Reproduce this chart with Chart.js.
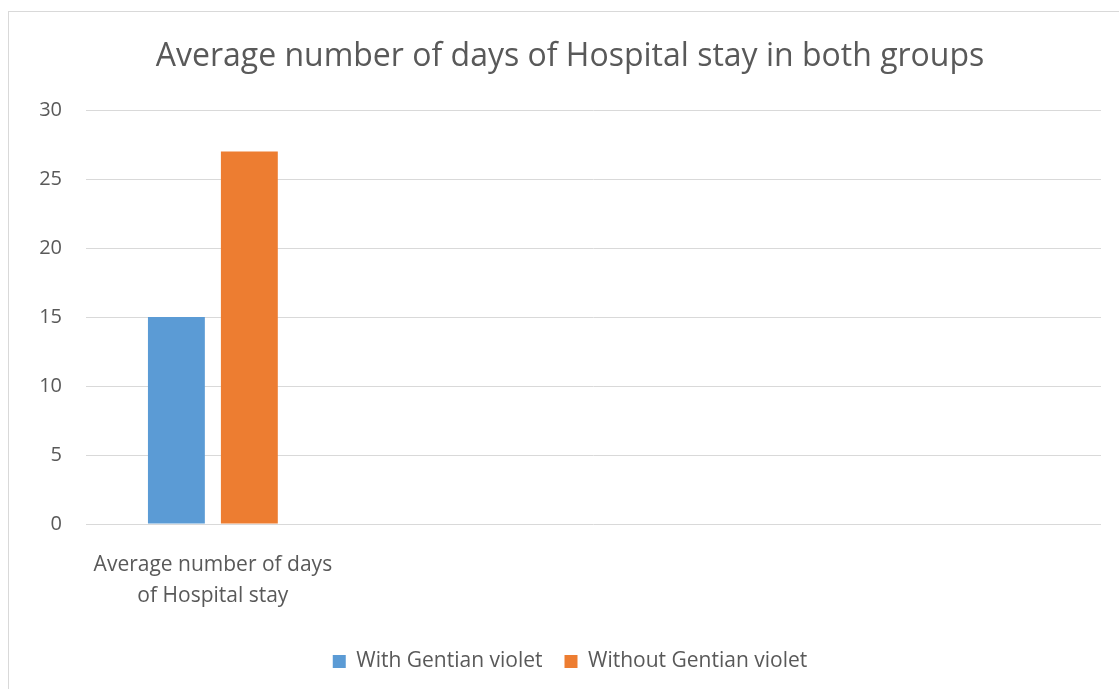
<!DOCTYPE html>
<html>
<head>
<meta charset="utf-8">
<script src="https://cdn.jsdelivr.net/npm/chart.js@4"></script>
<style>
  html, body { margin: 0; padding: 0; background: #ffffff; overflow: hidden; }
  #frame { position: absolute; left: 8px; top: 11px; width: 1130px; height: 700px; border: 1px solid #d9d9d9; box-sizing: border-box; }
  #wrap { position: absolute; left: 0; top: 0; width: 1119px; height: 689px; }
</style>
</head>
<body>
<div id="frame"></div>
<div id="wrap"><canvas id="c" width="1119" height="689"></canvas></div>
<script>
const chartTitle = "Average number of days of Hospital stay in both groups";
const categories = [["Average number of days", "of Hospital stay"], "", "", ""];
const seriesNames = ["With Gentian violet", "Without Gentian violet"];
const withGentian = [15, null, null, null];
const withoutGentian = [27, null, null, null];
const yTicks = [0, 5, 10, 15, 20, 25, 30];

const textColor = "#595959";
Chart.defaults.font.family = "'Open Sans', 'Liberation Sans', sans-serif";
Chart.defaults.color = textColor;

new Chart(document.getElementById("c"), {
  type: "bar",
  data: {
    labels: categories,
    datasets: [
      { label: seriesNames[0], data: withGentian, backgroundColor: "#5b9bd5", borderWidth: 0 },
      { label: seriesNames[1], data: withoutGentian, backgroundColor: "#ed7d31", borderWidth: 0 }
    ]
  },
  options: {
    responsive: false,
    animation: false,
    devicePixelRatio: 1,
    datasets: { bar: { categoryPercentage: 0.575, barPercentage: 0.78 } },
    layout: { padding: { left: 39, right: 18, top: 0, bottom: 7 } },
    plugins: {
      title: {
        display: true,
        text: chartTitle,
        color: textColor,
        font: { size: 32, weight: "normal", lineHeight: 1.2 },
        padding: { top: 38, bottom: 33.6 }
      },
      legend: {
        position: "bottom",
        labels: {
          color: textColor,
          font: { size: 21 },
          boxWidth: 13,
          boxHeight: 13,
          padding: 22
        }
      },
      tooltip: { enabled: false }
    },
    scales: {
      x: {
        grid: { display: false },
        border: { display: false },
        ticks: { color: textColor, font: { size: 21, lineHeight: 1.5 }, padding: 17, maxRotation: 0, autoSkip: false },
        afterFit: (s) => { s.height = 105; }
      },
      y: {
        min: 0,
        max: 30,
        afterBuildTicks: (s) => { s.ticks = yTicks.map(v => ({ value: v })); },
        grid: { color: "#d9d9d9", lineWidth: 1, drawTicks: false },
        border: { display: false },
        ticks: { color: textColor, font: { size: 20 }, padding: 24 },
        afterFit: (s) => { s.width = 47; }
      }
    }
  }
});
</script>
</body>
</html>
